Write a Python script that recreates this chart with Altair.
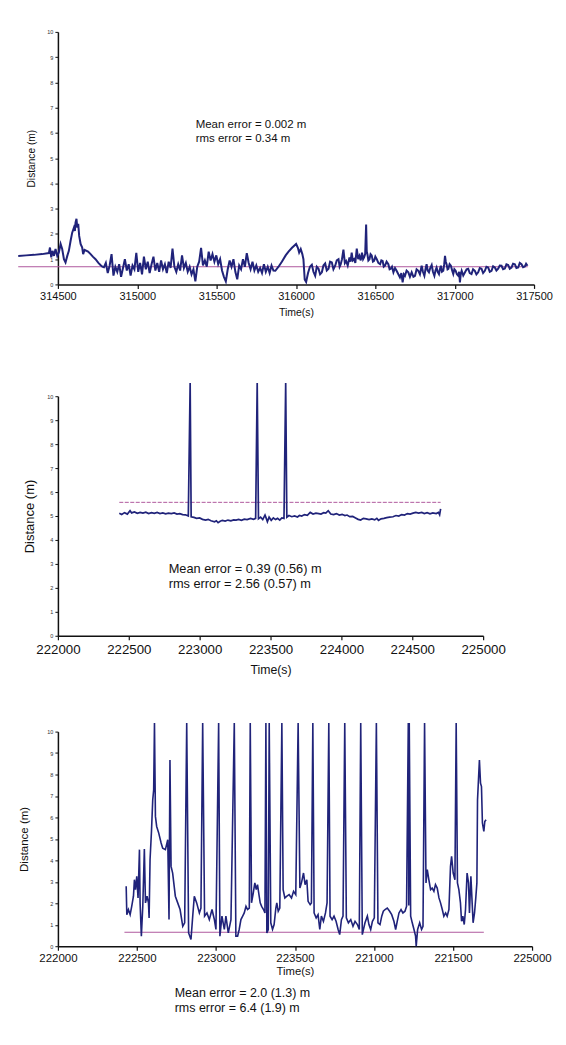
import altair as alt
import pandas as pd

FONT = "Liberation Sans"
LINE = "#20237a"
MEAN = "#b0589e"

# ---------------- Panel 1 ----------------
p1_a = [(314250, 1.13), (314300, 1.15), (314349, 1.17), (314400, 1.2), (314443, 1.24), (314450, 1.46),
        (314458, 1.07), (314466, 1.33), (314475, 1.13), (314485, 1.4), (314496, 1.13), (314506, 1.27),
        (314517, 1.6), (314527, 1.4), (314538, 1.0), (314548, 0.87), (314559, 1.13), (314569, 1.33),
        (314580, 1.73), (314590, 2.05), (314601, 2.25), (314607, 2.12), (314611, 2.45), (314617, 2.6),
        (314622, 2.25), (314628, 2.4), (314634, 1.92), (314643, 1.6), (314653, 1.46), (314659, 1.2),
        (314668, 1.37), (314690, 1.3), (314706, 1.2), (314720, 1.1), (314737, 1.0), (314755, 0.85),
        (314768, 0.77), (314780, 0.7)]
p1_b_start = 314790
p1_b_step = 12
p1_b = [0.68, 0.85, 0.45, 0.75, 1.2, 0.35, 0.7, 0.5, 0.8, 0.3, 0.65, 1.0, 0.55, 0.8, 0.35, 0.75,
        0.6, 1.25, 0.5, 0.85, 0.4, 1.1, 0.6, 0.9, 0.45, 0.8, 1.1, 0.55, 0.85, 0.5, 0.95, 0.6, 0.8,
        0.45, 0.9, 0.65, 1.42, 0.7, 0.5, 0.8, 0.55, 1.15, 0.65, 0.85, 0.5, 0.7, 0.4, 0.6, 0.12, 0.7,
        0.9, 1.45, 0.75, 0.95, 0.7, 1.3, 0.95, 1.2, 0.9, 1.15, 0.8, 1.0, 0.55, 0.3, 0.12, 0.6, 0.95,
        0.7, 1.0, 0.5, 0.2, 0.75, 0.6, 1.0, 0.7, 1.24, 0.85, 0.6, 0.9, 0.55, 0.75, 0.5, 0.65, 0.45,
        0.8, 0.5, 0.7, 0.45, 0.75, 0.55, 0.54]
p1_c = [(315890, 0.7), (315911, 0.9), (315935, 1.15), (315953, 1.3), (315975, 1.45), (316001, 1.6),
        (316012, 1.45), (316020, 1.26), (316030, 1.4), (316040, 1.2), (316047, 1.0), (316055, 0.2),
        (316064, 0.1)]
p1_d = [(316076, 0.45), (316088, 0.7), (316100, 0.78), (316110, 0.5), (316121, 0.34), (316131, 0.7),
        (316142, 0.62), (316152, 0.4), (316163, 0.48), (316173, 0.75), (316184, 0.83), (316194, 0.55),
        (316205, 0.62), (316215, 0.9), (316226, 0.87), (316236, 0.6), (316247, 0.74), (316257, 0.95),
        (316268, 1.0), (316275, 0.7), (316282, 0.8), (316290, 1.0), (316299, 1.38), (316308, 0.85),
        (316316, 0.93), (316326, 0.75), (316337, 1.07), (316344, 0.9), (316351, 1.26), (316358, 0.95),
        (316366, 1.0), (316374, 0.85), (316383, 1.42), (316392, 1.0), (316400, 1.13), (316408, 0.95),
        (316416, 1.26), (316423, 1.0), (316429, 1.07), (316436, 1.2), (316442, 2.37), (316446, 1.3),
        (316450, 1.2), (316456, 0.95), (316463, 1.0), (316470, 1.2), (316477, 1.15), (316485, 0.9),
        (316492, 0.93), (316500, 1.1), (316509, 1.0), (316519, 0.85), (316530, 0.8), (316538, 0.95),
        (316546, 0.93), (316553, 0.7), (316561, 0.74), (316571, 0.9), (316582, 0.8), (316590, 0.6),
        (316597, 0.62), (316605, 0.7), (316614, 0.48), (316624, 0.65), (316634, 0.54), (316645, 0.4),
        (316655, 0.28), (316664, 0.45), (316672, 0.08), (316680, 0.4), (316687, 0.34), (316697, 0.55),
        (316708, 0.48)]
p1_e = [(316718, 0.3), (316729, 0.48), (316740, 0.3), (316750, 0.34), (316760, 0.6), (316771, 0.54),
        (316781, 0.4), (316792, 0.74), (316800, 0.5), (316809, 0.34), (316816, 0.6), (316823, 0.8),
        (316830, 0.55), (316838, 0.48), (316846, 0.65), (316855, 0.77), (316863, 0.5), (316872, 0.34),
        (316879, 0.55), (316886, 0.67), (316893, 0.5), (316901, 0.41), (316907, 0.6), (316913, 0.74),
        (316920, 0.5), (316928, 0.54), (316934, 0.8), (316939, 1.13), (316944, 0.9), (316949, 0.8),
        (316955, 0.6), (316960, 0.62), (316968, 0.8), (316976, 0.74), (316984, 0.55), (316991, 0.41),
        (316998, 0.6), (317006, 0.54), (317014, 0.4), (317023, 0.34), (317028, 0.5), (317033, 0.08),
        (317038, 0.4), (317044, 0.54), (317054, 0.35), (317065, 0.48), (317075, 0.6), (317085, 0.62),
        (317095, 0.45), (317106, 0.41), (317116, 0.6), (317127, 0.54), (317137, 0.4), (317148, 0.48),
        (317158, 0.65), (317169, 0.62), (317179, 0.45), (317190, 0.54), (317200, 0.7), (317211, 0.67),
        (317221, 0.5), (317232, 0.54), (317242, 0.72), (317253, 0.67), (317263, 0.55), (317274, 0.62),
        (317284, 0.75), (317295, 0.74), (317305, 0.6), (317316, 0.63), (317326, 0.8), (317337, 0.77),
        (317347, 0.62), (317358, 0.67), (317368, 0.82), (317379, 0.8), (317389, 0.65), (317400, 0.67),
        (317410, 0.85), (317421, 0.8), (317431, 0.68), (317442, 0.71), (317450, 0.82), (317459, 0.74)]
p1_mean = [(314250, 0.70), (317460, 0.70)]
p1_text = "Mean error = 0.002 m\nrms error = 0.34 m"

# ---------------- Panel 2 ----------------
p2 = [(222433, 5.11), (222450, 5.06), (222470, 5.14), (222490, 5.08), (222509, 5.22), (222520, 5.13),
      (222540, 5.17), (222560, 5.11), (222580, 5.15), (222600, 5.12), (222620, 5.16), (222640, 5.1),
      (222660, 5.14), (222680, 5.11), (222700, 5.15), (222720, 5.1), (222740, 5.13), (222760, 5.09),
      (222780, 5.12), (222800, 5.1), (222820, 5.13), (222840, 5.08), (222860, 5.1), (222880, 5.06),
      (222900, 5.05), (222920, 5.0), (222933, 10.55), (222940, 4.97), (222960, 4.94), (222978, 4.9),
      (223000, 4.92), (223020, 4.86), (223042, 4.83), (223060, 4.86), (223080, 4.8), (223105, 4.76),
      (223118, 4.8), (223130, 4.72), (223145, 4.78), (223160, 4.82), (223180, 4.79), (223200, 4.83),
      (223220, 4.8), (223240, 4.84), (223257, 4.83), (223275, 4.86), (223295, 4.82), (223315, 4.87),
      (223335, 4.85), (223359, 4.9), (223380, 4.86), (223395, 4.9), (223406, 10.55), (223415, 4.88),
      (223430, 4.95), (223445, 4.85), (223461, 5.04), (223470, 4.9), (223478, 4.76), (223490, 4.95),
      (223505, 4.82), (223520, 4.92), (223535, 4.85), (223550, 4.9), (223565, 4.83), (223580, 4.92),
      (223595, 4.9), (223607, 10.55), (223615, 4.95), (223630, 5.02), (223650, 4.97), (223670, 5.0),
      (223690, 4.96), (223704, 5.02), (223720, 5.0), (223740, 5.06), (223760, 5.03), (223780, 5.15),
      (223800, 5.08), (223820, 5.12), (223840, 5.1), (223856, 5.08), (223875, 5.14), (223890, 5.12),
      (223907, 5.22), (223925, 5.08), (223945, 5.06), (223965, 5.1), (223985, 5.04), (224005, 5.07),
      (224025, 5.02), (224040, 5.04), (224059, 4.97), (224080, 4.98), (224100, 4.92), (224118, 4.86),
      (224136, 4.83), (224155, 4.9), (224175, 4.88), (224195, 4.85), (224215, 4.88), (224235, 4.84),
      (224250, 4.9), (224262, 4.82), (224280, 4.88), (224300, 4.9), (224320, 4.93), (224340, 4.95),
      (224364, 4.97), (224385, 5.02), (224405, 5.0), (224425, 5.06), (224445, 5.04), (224466, 5.1),
      (224485, 5.08), (224505, 5.12), (224525, 5.15), (224545, 5.12), (224567, 5.15), (224585, 5.1),
      (224605, 5.14), (224625, 5.09), (224645, 5.13), (224669, 5.1), (224685, 5.15), (224693, 5.05),
      (224700, 5.3)]
p2_mean = [(222433, 5.57), (224700, 5.57)]
p2_text = "Mean error = 0.39 (0.56) m\nrms error = 2.56 (0.57) m"

# ---------------- Panel 3 ----------------
p3 = [(222432, 2.79), (222436, 1.47), (222446, 1.71), (222457, 1.47), (222467, 1.86), (222478, 2.33),
      (222484, 3.1), (222491, 2.63), (222499, 3.26), (222507, 2.25), (222516, 4.5), (222520, 2.02),
      (222528, 0.47), (222537, 1.86), (222547, 4.53), (222554, 2.02), (222564, 2.33), (222573, 2.02),
      (222577, 1.32), (222583, 4.03), (222592, 5.35), (222600, 6.82), (222606, 7.29), (222611, 10.4),
      (222617, 6.05), (222625, 5.58), (222638, 5.27), (222653, 4.81), (222663, 4.57), (222680, 4.5),
      (222695, 4.96), (222703, 1.24), (222709, 8.68), (222716, 3.72), (222726, 3.41), (222743, 2.33),
      (222758, 2.02), (222773, 1.71), (222790, 0.93), (222802, 1.09), (222815, 10.4), (222827, 0.62),
      (222842, 0.31), (222853, 1.4), (222863, 2.33), (222878, 2.02), (222895, 1.55), (222905, 1.78),
      (222916, 10.4), (222928, 1.4), (222943, 1.55), (222958, 1.24), (222975, 1.71), (222990, 1.24),
      (223000, 0.78), (223017, 10.4), (223025, 0.47), (223038, 1.4), (223053, 0.78), (223063, 1.4),
      (223078, 0.62), (223095, 1.24), (223116, 10.4), (223126, 0.47), (223137, 0.47), (223147, 0.78),
      (223158, 1.24), (223169, 1.4), (223179, 1.55), (223190, 1.86), (223200, 1.71), (223211, 1.78),
      (223217, 10.4), (223225, 2.02), (223236, 2.48), (223246, 2.95), (223255, 2.64), (223263, 2.87),
      (223272, 2.4), (223280, 2.02), (223289, 1.86), (223301, 1.71), (223310, 1.55), (223316, 10.4),
      (223322, 0.62), (223331, 0.78), (223337, 10.4), (223347, 1.09), (223358, 0.78), (223368, 1.01),
      (223379, 1.78), (223385, 2.02), (223394, 1.63), (223404, 1.78), (223417, 10.4), (223425, 2.64),
      (223436, 2.25), (223449, 2.33), (223463, 2.4), (223478, 2.25), (223491, 2.56), (223505, 2.4),
      (223520, 10.4), (223531, 2.71), (223541, 2.95), (223554, 3.41), (223564, 2.87), (223575, 3.1),
      (223583, 2.09), (223596, 1.94), (223604, 2.02), (223613, 10.4), (223621, 1.55), (223634, 1.32),
      (223646, 1.47), (223657, 0.78), (223667, 1.4), (223680, 1.16), (223693, 1.55), (223703, 2.02),
      (223714, 10.4), (223722, 1.4), (223735, 1.24), (223747, 1.4), (223760, 1.16), (223773, 0.78),
      (223783, 0.54), (223794, 1.24), (223804, 1.4), (223815, 10.4), (223825, 1.32), (223838, 1.09),
      (223853, 1.24), (223867, 0.93), (223880, 1.16), (223895, 1.01), (223907, 0.78), (223916, 10.4),
      (223926, 0.54), (223943, 1.09), (223958, 1.4), (223968, 1.01), (223979, 0.78), (223990, 1.16),
      (224002, 1.32), (224015, 10.4), (224025, 1.09), (224038, 1.01), (224049, 1.4), (224059, 1.63),
      (224070, 1.71), (224084, 1.78), (224099, 1.63), (224112, 1.47), (224126, 1.16), (224137, 0.78),
      (224147, 1.16), (224158, 1.55), (224171, 1.71), (224183, 1.55), (224196, 1.63), (224206, 1.86),
      (224217, 10.4), (224220, 1.9), (224223, 10.4), (224232, 1.4), (224242, 1.09), (224253, 0.78),
      (224263, 0.47), (224267, 0.0), (224276, 0.78), (224289, 1.09), (224301, 0.78), (224310, 0.93),
      (224320, 10.4), (224329, 2.95), (224337, 3.57), (224347, 3.1), (224358, 2.64), (224368, 2.71),
      (224379, 2.56), (224389, 2.87), (224400, 2.71), (224411, 2.25), (224421, 2.02), (224432, 1.71),
      (224442, 1.4), (224453, 1.55), (224463, 1.4), (224474, 1.71), (224484, 3.72), (224491, 4.19),
      (224501, 3.41), (224512, 3.1), (224520, 10.4), (224528, 2.95), (224537, 2.64), (224547, 2.02),
      (224554, 1.16), (224562, 1.4), (224571, 1.01), (224579, 1.71), (224589, 3.41), (224598, 2.95),
      (224604, 1.55), (224613, 3.26), (224621, 2.02), (224627, 1.09), (224636, 1.55), (224644, 2.25),
      (224651, 2.95), (224655, 6.82), (224661, 7.75), (224667, 8.68), (224674, 7.6), (224680, 7.44),
      (224686, 5.74), (224695, 5.35), (224701, 5.81), (224709, 5.89)]
p3_mean = [(222421, 0.65), (224695, 0.65)]
p3_text = "Mean error = 2.0 (1.3) m\nrms error = 6.4 (1.9) m"

y_ticks = [0, 1, 2, 3, 4, 5, 6, 7, 8, 9, 10]
p1_xticks = [314500, 315000, 315500, 316000, 316500, 317000, 317500]
p2_xticks = [222000, 222500, 223000, 223500, 224000, 224500, 225000]
p3_xticks = [222000, 222500, 223000, 223500, 224000, 224500, 225000]
p3_xlabels = ["222000", "222500", "223000", "223500", "221000", "221500", "225000"]


def to_df(pairs):
    df = pd.DataFrame(pairs, columns=["t", "y"])
    df["i"] = range(len(df))
    return df


p1_pairs = list(p1_a)
p1_pairs += [(p1_b_start + k * p1_b_step, v) for k, v in enumerate(p1_b)]
p1_pairs += p1_c + p1_d + p1_e


def panel(pairs, mean_pairs, text, xticks, width, height, xfs, tfs, yfs, ann_x, ann_y, ann_fs,
          ytitle_pad, label_pad=2, title_pad=2, label_expr=None, sw=1.4, dash=None, top_pad=0):
    xdom = [xticks[0], xticks[-1]]
    xaxis_kw = dict(values=xticks, format="d", labelFont=FONT, labelFontSize=xfs, title="Time(s)",
                    titleFont=FONT, titleFontSize=tfs, titleFontWeight="normal", titleColor="#111",
                    labelColor="#111", tickSize=4, tickColor="#111", domainColor="#111",
                    domainWidth=1.5, tickWidth=1.2, grid=False, labelPadding=label_pad,
                    titlePadding=title_pad, labelFlush=False, labelOverlap=False)
    if label_expr:
        xaxis_kw["labelExpr"] = label_expr
    x = alt.X("t:Q", scale=alt.Scale(domain=xdom, nice=False, zero=False), axis=alt.Axis(**xaxis_kw))
    y = alt.Y("y:Q", scale=alt.Scale(domain=[0, 10], nice=False),
              axis=alt.Axis(values=y_ticks, tickCount=11, labelFont=FONT, labelFontSize=5.5,
                            labelColor="#333", tickSize=3, tickColor="#111", domainColor="#111",
                            domainWidth=1.5, grid=False, title="Distance (m)", titleFont=FONT,
                            titleFontSize=yfs, titleFontWeight="normal", titleColor="#111",
                            labelPadding=2, titlePadding=ytitle_pad, labelOverlap=False,
                            labelBound=False))
    line = alt.Chart(to_df(pairs)).mark_line(color=LINE, strokeWidth=sw, clip=False).encode(
        x=x, y=y, order="i:Q")
    mean_kw = dict(color=MEAN, strokeWidth=1, clip=False)
    if dash:
        mean_kw["strokeDash"] = dash
    mean = alt.Chart(to_df(mean_pairs)).mark_line(**mean_kw).encode(x=x, y=y)
    ann = alt.Chart(pd.DataFrame({"label": [text]})).mark_text(
        align="left", baseline="top", font=FONT, fontSize=ann_fs, lineBreak="\n",
        lineHeight=ann_fs + 2.5, color="#111").encode(
        x=alt.value(ann_x), y=alt.value(ann_y), text="label:N")
    layers = [mean, line, ann]
    if top_pad:
        spacer = alt.Chart(pd.DataFrame({"label": [""]})).mark_rule(opacity=0, strokeWidth=0).encode(
            x=alt.value(0), y=alt.value(-top_pad), y2=alt.value(0))
        layers.append(spacer)
    return alt.layer(*layers).properties(width=width, height=height)


expr3 = "[" + ",".join("'%s'" % s for s in p3_xlabels) + "][indexof([" + ",".join(
    str(v) for v in p3_xticks) + "], datum.value)]"

c1 = panel(p1_pairs, p1_mean, p1_text, p1_xticks, 477, 253, 11, 10.5, 10.2, 138, 87, 11.5, 10,
           title_pad=6, sw=2.0)
c2 = panel(p2, p2_mean, p2_text, p2_xticks, 426, 240, 13.3, 12.3, 13, 111, 167, 12.8, 10,
           label_pad=3, title_pad=7, sw=1.7, dash=[4, 1.5], top_pad=34)
c3 = panel(p3, p3_mean, p3_text, p3_xticks, 475, 215, 11.5, 11.3, 11.5, 117, 256, 12.5, 17,
           label_expr=expr3, sw=1.6)

chart = alt.vconcat(c1, c2, c3, spacing=44).properties(
    padding={"top": 21, "left": 6, "right": 5, "bottom": 5}, background="white"
).configure_view(stroke=None)

chart.save("out.html", embed_options={"renderer": "svg", "actions": False})
